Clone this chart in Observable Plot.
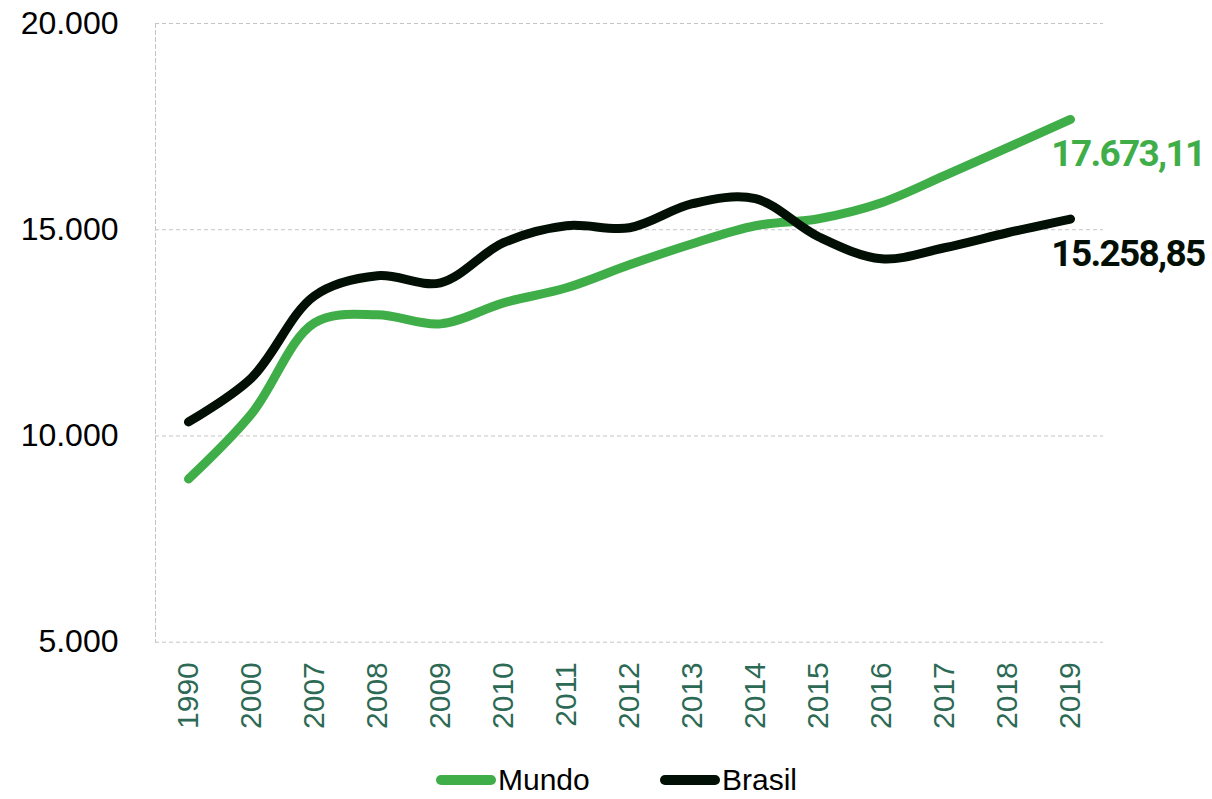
<!DOCTYPE html>
<html>
<head>
<meta charset="utf-8">
<script src="https://cdn.jsdelivr.net/npm/d3@7"></script>
<script src="https://cdn.jsdelivr.net/npm/@observablehq/plot@0.6"></script>
<style>
  html, body { margin: 0; padding: 0; background: #fff; }
  #chart svg { display: block; }
  #legend { position: relative; height: 39px; font-family: "Liberation Sans", Arial, sans-serif; font-size: 30px; color: #000; }
  .item { position: absolute; top: 0; display: flex; align-items: center; height: 39px; }
  .sw { width: 60px; height: 10px; border-radius: 5px; margin-right: 2px; }
</style>
</head>
<body>
<div id="chart"></div>
<div id="legend"></div>
<script>
const years = ["1990","2000","2007","2008","2009","2010","2011","2012","2013","2014","2015","2016","2017","2018","2019"];
const mundo = [8957, 10535, 12743, 12937, 12718, 13228, 13592, 14151, 14661, 15097, 15267, 15655, 16311, 16990, 17673.11];
const brasil = [10340, 11408, 13398, 13884, 13714, 14685, 15097, 15049, 15631, 15752, 14830, 14297, 14563, 14927, 15258.85];
const seriesNames = ["Mundo", "Brasil"];
const seriesColors = ["#3fae49", "#020f04"];
const yTicks = [5000, 10000, 15000, 20000];
const endLabels = ["17.673,11", "15.258,85"];

const rows = [];
years.forEach((yr, i) => {
  rows.push({year: yr, value: mundo[i], serie: "Mundo"});
  rows.push({year: yr, value: brasil[i], serie: "Brasil"});
});
const last = [
  {year: years[years.length-1], value: mundo[mundo.length-1], serie: "Mundo", label: endLabels[0]},
  {year: years[years.length-1], value: brasil[brasil.length-1], serie: "Brasil", label: endLabels[1]}
];
const fmt = v => d3.format(",")(v).replace(/,/g, ".");

const chart = Plot.plot({
  width: 1212,
  height: 760,
  marginTop: 23,
  marginBottom: 118.3,
  marginLeft: 155,
  marginRight: 109,
  style: {fontFamily: "'Liberation Sans', Arial, sans-serif", background: "#fff"},
  x: {type: "point", domain: years, padding: 0.5, label: null},
  y: {domain: [5000, 20000], label: null},
  color: {domain: seriesNames, range: seriesColors},
  marks: [
    Plot.ruleY(yTicks, {stroke: "#c4c4c4", strokeWidth: 1, strokeDasharray: "4,3"}),
    Plot.frame({anchor: "left", stroke: "#c4c4c4", strokeDasharray: "4,3"}),
    Plot.axisY({ticks: yTicks, tickFormat: fmt, tickSize: 0, tickPadding: 37, fontSize: 32, fill: "#000", label: null}),
    Plot.axisX({tickSize: 0, tickRotate: -90, tickPadding: 20, fontSize: 30, fill: "#2d6a55", label: null}),
    Plot.line(rows, {x: "year", y: "value", z: "serie", stroke: "serie", strokeWidth: 9, curve: "catmull-rom", strokeLinecap: "round", strokeLinejoin: "round"}),
    Plot.text(last, {x: "year", y: "value", text: "label", fill: "serie", textAnchor: "end", dx: 134, dy: 35,
      fontFamily: "Roboto, sans-serif", fontWeight: 700, fontSize: 37})
  ]
});
chart.querySelectorAll('g[aria-label="text"] text').forEach(t => { t.style.letterSpacing = "-1.7px"; });
document.getElementById("chart").appendChild(chart);

const legend = document.getElementById("legend");
const lefts = [436, 660];
seriesNames.forEach((n, i) => {
  const it = document.createElement("div");
  it.className = "item";
  it.style.left = lefts[i] + "px";
  it.innerHTML = `<span class="sw" style="background:${seriesColors[i]}"></span><span>${n}</span>`;
  legend.appendChild(it);
});
</script>
</body>
</html>
